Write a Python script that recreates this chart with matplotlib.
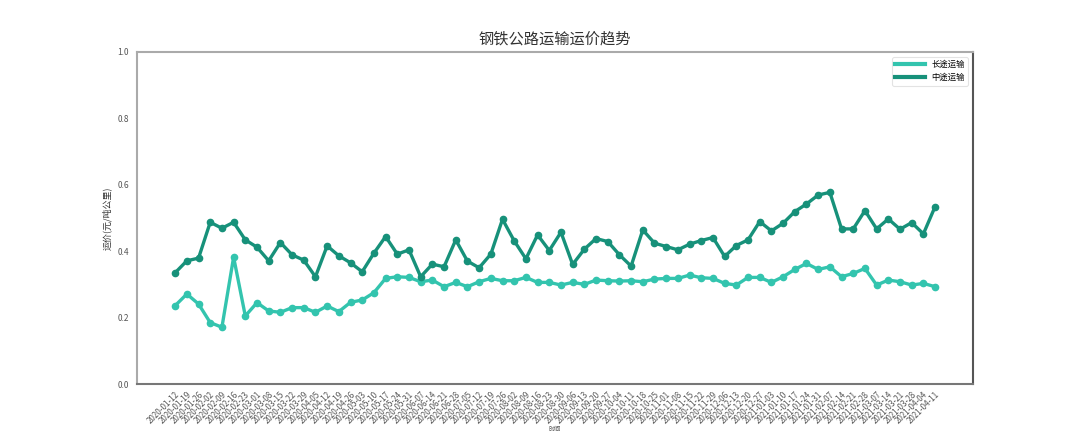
import matplotlib
matplotlib.use("Agg")
import matplotlib.pyplot as plt
from matplotlib.lines import Line2D
import pandas as pd

plt.rcParams['font.family'] = ['Noto Sans CJK SC', 'DejaVu Sans']

dates = pd.date_range("2020-01-12", "2021-04-11", freq="7D").strftime("%Y-%m-%d").tolist()

long_haul = [0.236, 0.271, 0.241, 0.185, 0.171, 0.382, 0.205, 0.245, 0.220, 0.216,
             0.230, 0.230, 0.216, 0.235, 0.218, 0.246, 0.253, 0.275, 0.318, 0.323,
             0.321, 0.308, 0.313, 0.293, 0.306, 0.293, 0.308, 0.318, 0.311, 0.311,
             0.321, 0.306, 0.306, 0.298, 0.306, 0.300, 0.313, 0.311, 0.310, 0.311,
             0.308, 0.316, 0.318, 0.318, 0.328, 0.320, 0.318, 0.303, 0.298, 0.321,
             0.321, 0.306, 0.323, 0.345, 0.363, 0.345, 0.353, 0.323, 0.333, 0.348,
             0.298, 0.313, 0.308, 0.298, 0.303, 0.293]

mid_haul = [0.335, 0.371, 0.379, 0.487, 0.469, 0.487, 0.434, 0.412, 0.371, 0.426,
            0.389, 0.373, 0.323, 0.416, 0.386, 0.365, 0.338, 0.394, 0.444, 0.391,
            0.404, 0.323, 0.361, 0.353, 0.434, 0.370, 0.350, 0.391, 0.496, 0.431,
            0.377, 0.449, 0.402, 0.457, 0.360, 0.406, 0.438, 0.429, 0.389, 0.355,
            0.464, 0.424, 0.414, 0.404, 0.421, 0.432, 0.441, 0.384, 0.417, 0.434,
            0.489, 0.461, 0.484, 0.519, 0.542, 0.569, 0.577, 0.467, 0.467, 0.522,
            0.467, 0.497, 0.466, 0.486, 0.452, 0.534]

series_names = ["长途运输", "中途运输"]
title = "钢铁公路运输运价趋势"
xlabel = "时间"
ylabel = "运价(元/吨公里)"

colors = ["#33c4ae", "#17917a"]

fig = plt.figure(figsize=(10.8, 4.32), dpi=100)
ax = fig.add_axes([0.127, 0.111, 0.774, 0.769])

x = list(range(len(dates)))
ax.plot(x, long_haul, color=colors[0], lw=2.4, marker="o", ms=4.5)
ax.plot(x, mid_haul, color=colors[1], lw=2.4, marker="o", ms=4.5)

ax.set_ylim(0, 1.0)
ax.set_yticks([0.0, 0.2, 0.4, 0.6, 0.8, 1.0])
ax.set_yticklabels(["0.0", "0.2", "0.4", "0.6", "0.8", "1.0"])
ax.set_xticks(x)
ax.set_xticklabels(dates, rotation=45, ha="right", rotation_mode="anchor")
ax.tick_params(axis="both", length=0, labelsize=6, labelcolor="#555555", pad=6)
ax.tick_params(axis="x", labelsize=5.8, pad=4)

for side in ["left", "top"]:
    ax.spines[side].set_color("#aaaaaa")
    ax.spines[side].set_linewidth(1.5)
ax.spines["bottom"].set_color("#777777")
ax.spines["bottom"].set_linewidth(1.5)
ax.spines["right"].set_color("#555555")
ax.spines["right"].set_linewidth(1.5)

ax.set_title(title, fontsize=11, color="#333333", pad=6)
ax.set_xlabel(xlabel, fontsize=4.5, color="#555555", labelpad=0)
ax.set_ylabel(ylabel, fontsize=6.5, color="#333333", labelpad=4)

handles = [Line2D([], [], color=c, lw=3) for c in colors]
leg = ax.legend(handles, series_names, loc="upper right", fontsize=6, frameon=True,
                handlelength=3.5, borderaxespad=0.6)
leg.get_frame().set_edgecolor("#dddddd")
leg.get_frame().set_linewidth(0.8)

fig.savefig("out.png", dpi=100, facecolor="white")
